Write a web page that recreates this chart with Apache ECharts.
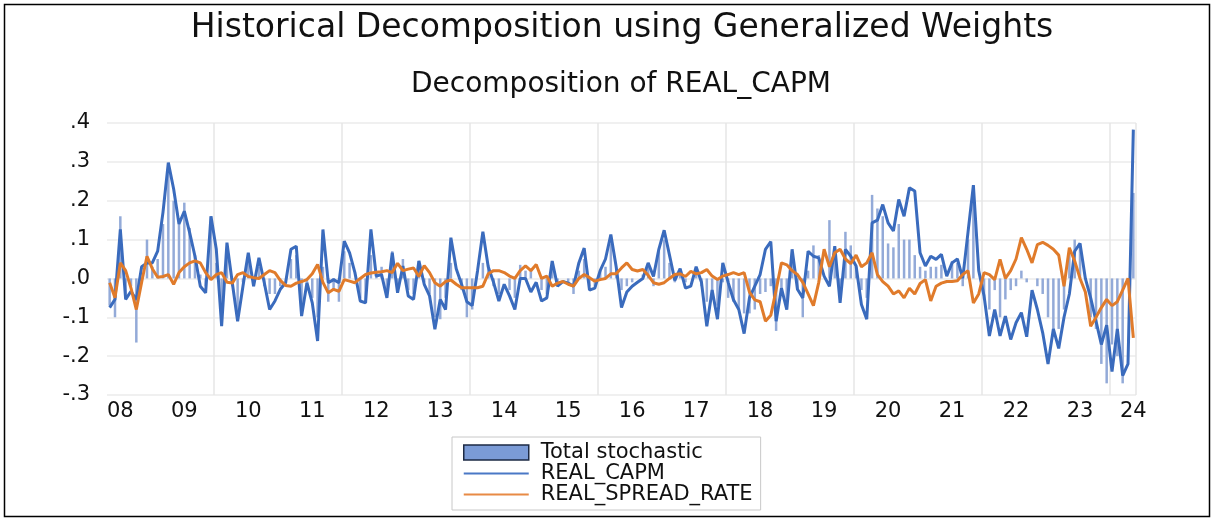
<!DOCTYPE html>
<html>
<head>
<meta charset="utf-8">
<script src="https://cdn.jsdelivr.net/npm/echarts@6/dist/echarts.min.js"></script>
<style>
  html, body { margin: 0; padding: 0; background: #fff; }
  #chart { width: 1211px; height: 518px; }
</style>
</head>
<body>
<div id="chart"></div>
<script>
// ---- data (monthly, 2008M05 .. 2024M05) ----
const startYear = 2008;
const startMonth = 5;
const yearLabels = ['08','09','10','11','12','13','14','15','16','17','18','19','20','21','22','23','24'];

const totalStochastic = [
  -0.07,-0.10,0.16,-0.04,-0.02,-0.165,0.00,0.10,0.03,0.05,0.14,0.28,0.20,0.14,0.195,0.13,0.06,0.01,-0.02,0.16,
  0.04,-0.10,0.08,-0.02,-0.09,-0.01,0.05,-0.02,0.03,-0.02,-0.04,-0.04,-0.02,0.00,0.05,0.06,-0.07,-0.01,-0.05,-0.10,
  0.03,-0.06,-0.03,-0.06,0.07,0.04,0.00,-0.05,-0.06,0.06,0.01,0.03,-0.04,0.07,-0.02,0.05,-0.03,-0.04,0.045,-0.01,
  -0.04,-0.10,-0.105,-0.05,0.04,0.00,-0.03,-0.10,-0.08,0.00,0.04,0.035,-0.02,-0.04,0.00,-0.03,-0.05,0.035,0.02,0.025,
  0.00,-0.03,-0.04,0.045,-0.01,0.00,-0.01,-0.04,0.02,0.05,-0.02,-0.02,0.02,0.03,0.09,0.02,-0.03,-0.02,-0.01,0.00,
  0.01,0.03,-0.02,0.07,0.10,0.04,-0.01,0.01,-0.01,0.00,0.02,-0.02,-0.06,-0.05,-0.07,-0.01,-0.05,-0.06,-0.08,-0.09,
  -0.09,-0.08,-0.04,-0.035,-0.02,-0.135,-0.04,-0.06,0.04,-0.03,-0.10,0.02,0.085,0.06,0.00,0.15,0.08,-0.04,0.12,0.085,
  0.03,-0.03,-0.05,0.215,0.18,0.16,0.09,0.08,0.14,0.10,0.10,0.06,0.03,0.02,0.03,0.03,0.035,0.00,0.045,0.04,
  -0.02,0.10,0.22,0.00,-0.054,-0.08,-0.03,-0.10,-0.054,-0.03,-0.02,0.02,-0.01,0.00,-0.02,-0.04,-0.10,-0.15,-0.13,-0.08,
  0.075,0.10,0.09,0.00,-0.10,-0.13,-0.22,-0.27,-0.17,-0.20,-0.27,-0.01,0.22
];

const realCapm = [
  -0.075,-0.054,0.126,-0.054,-0.033,-0.055,0.03,0.04,0.04,0.07,0.17,0.298,0.23,0.14,0.173,0.118,0.057,-0.02,-0.037,0.16,
  0.075,-0.123,0.092,-0.011,-0.11,-0.02,0.066,-0.02,0.053,-0.011,-0.08,-0.058,-0.028,-0.011,0.075,0.083,-0.097,-0.011,-0.063,-0.161,
  0.126,-0.011,-0.003,-0.011,0.096,0.066,0.015,-0.058,-0.063,0.126,0.006,0.01,-0.05,0.066,-0.037,0.032,-0.045,-0.054,0.045,-0.015,
  -0.045,-0.131,-0.054,-0.08,0.105,0.025,-0.015,-0.06,-0.07,0.02,0.12,0.03,-0.01,-0.058,-0.015,-0.045,-0.08,0.0,0.0,-0.035,
  -0.01,-0.058,-0.05,0.045,-0.02,-0.008,-0.012,-0.02,0.04,0.078,-0.03,-0.025,0.02,0.05,0.113,0.03,-0.075,-0.035,-0.02,-0.01,
  0.0,0.04,0.005,0.075,0.124,0.06,-0.005,0.025,-0.025,-0.02,0.03,-0.01,-0.123,-0.03,-0.105,0.04,-0.01,-0.055,-0.08,-0.142,
  -0.05,-0.02,0.01,0.075,0.095,-0.11,-0.025,-0.08,0.075,-0.028,-0.05,0.07,0.057,0.053,0.006,-0.02,0.083,-0.063,0.075,0.057,
  0.032,-0.067,-0.105,0.143,0.15,0.19,0.143,0.122,0.203,0.16,0.233,0.225,0.066,0.032,0.057,0.049,0.062,0.006,0.04,0.05,
  0.0,0.12,0.24,0.02,-0.045,-0.148,-0.08,-0.148,-0.097,-0.157,-0.114,-0.088,-0.15,-0.03,-0.08,-0.14,-0.22,-0.13,-0.18,-0.10,
  -0.04,0.07,0.09,0.0,-0.05,-0.11,-0.17,-0.12,-0.24,-0.13,-0.25,-0.22,0.383
];

const realSpreadRate = [
  -0.011,-0.05,0.04,0.02,-0.025,-0.08,-0.01,0.057,0.025,0.003,0.005,0.01,-0.015,0.015,0.03,0.04,0.045,0.04,0.015,-0.003,
  0.01,0.015,-0.01,-0.012,0.01,0.015,0.005,0.002,0.0,0.01,0.02,0.015,-0.005,-0.018,-0.02,-0.012,-0.008,-0.003,0.012,0.036,
  -0.01,-0.037,-0.028,-0.033,-0.003,-0.007,-0.011,0.0,0.01,0.014,0.016,0.017,0.02,0.015,0.039,0.02,0.024,0.027,0.005,0.033,
  0.015,-0.011,-0.02,-0.008,-0.004,-0.015,-0.024,-0.024,-0.024,-0.024,-0.02,0.012,0.02,0.02,0.015,0.006,0.0,0.02,0.032,0.02,
  0.036,0.0,0.006,-0.02,-0.012,-0.008,-0.015,-0.02,0.0,0.01,0.002,-0.007,-0.003,0.0,0.012,0.012,0.027,0.04,0.023,0.019,
  0.023,0.008,-0.011,-0.015,-0.011,0.0,0.01,0.012,0.005,0.018,0.012,0.015,0.023,0.006,-0.003,0.006,0.01,0.015,0.01,0.015,
  -0.035,-0.055,-0.06,-0.11,-0.095,-0.03,0.04,0.035,0.02,0.01,-0.01,-0.04,-0.07,-0.01,0.075,0.03,0.066,0.075,0.05,0.038,
  0.06,0.03,0.04,0.066,0.01,-0.008,-0.02,-0.04,-0.032,-0.05,-0.025,-0.04,-0.013,-0.003,-0.058,-0.02,-0.012,-0.008,-0.008,-0.006,
  0.01,0.02,-0.063,-0.04,0.015,0.01,-0.003,0.049,0.0,0.02,0.05,0.105,0.075,0.04,0.087,0.093,0.085,0.075,0.06,-0.02,
  0.079,0.045,0.0,-0.035,-0.123,-0.10,-0.075,-0.054,-0.07,-0.06,-0.03,0.0,-0.153
];

// month categories
const months = [];
for (let i = 0; i < realCapm.length; i++) {
  const m = startMonth - 1 + i;
  months.push((startYear + Math.floor(m / 12)) + 'M' + String(m % 12 + 1).padStart(2, '0'));
}
function parseMonth(v) { return { y: +v.slice(0, 4), m: +v.slice(5) }; }

const FONT = 'DejaVu Sans';
const BLUE = '#3a6bbd';
const ORANGE = '#e07b2b';
const LINE_ICON = 'path://M0,0H66V2.2H0Z';
const chart = echarts.init(document.getElementById('chart'), null, { renderer: 'canvas' });

chart.setOption({
  animation: false,
  backgroundColor: '#ffffff',
  textStyle: { fontFamily: FONT },
  title: [
    { text: 'Historical Decomposition using Generalized Weights', left: 622, top: 12, textAlign: 'center', padding: 0,
      textStyle: { fontFamily: FONT, fontSize: 33, fontWeight: 'normal', color: '#111' } },
    { text: 'Decomposition of REAL_CAPM', left: 621, top: 71, textAlign: 'center', padding: 0,
      textStyle: { fontFamily: FONT, fontSize: 28, fontWeight: 'normal', color: '#111' } }
  ],
  graphic: [
    { type: 'rect', left: 2, top: 2, shape: { width: 1205, height: 512 }, style: { fill: 'none', stroke: '#000', lineWidth: 1.5 }, silent: true }
  ],
  grid: { left: 107, right: 75, top: 123, bottom: 123, containLabel: false },
  legend: {
    orient: 'vertical',
    left: 452, top: 437,
    padding: [5, 8, 5, 11],
    itemGap: 0,
    itemWidth: 65, itemHeight: 15,
    borderColor: '#c8c8c8', borderWidth: 1,
    textStyle: { fontFamily: FONT, fontSize: 21, lineHeight: 20, color: '#111', padding: [0, 0, 0, 7] },
    data: [
      { name: 'Total stochastic', icon: 'rect', itemStyle: { color: '#7b9bd6', borderColor: '#1d2a44', borderWidth: 1.5 } },
      { name: 'REAL_CAPM', icon: LINE_ICON, itemStyle: { color: '#4a78c6' } },
      { name: 'REAL_SPREAD_RATE', icon: LINE_ICON, itemStyle: { color: '#e88a45' } }
    ]
  },
  xAxis: {
    type: 'category',
    data: months,
    boundaryGap: true,
    axisLine: { show: false },
    axisTick: { show: false },
    axisLabel: {
      interval: function (idx, val) { const p = parseMonth(val); return p.m === 7 || idx === months.length - 1; },
      formatter: function (val) { return yearLabels[parseMonth(val).y - startYear]; },
      fontFamily: FONT, fontSize: 21, color: '#111', margin: 6
    },
    splitLine: {
      show: true,
      interval: function (idx, val) { const p = parseMonth(val); return p.m === 1 && p.y % 2 === 0; },
      lineStyle: { color: '#e6e6e6', width: 1.5 }
    }
  },
  yAxis: {
    type: 'value',
    min: -0.3, max: 0.4, interval: 0.1,
    axisLine: { show: false },
    axisTick: { show: false },
    axisLabel: {
      formatter: function (v) { let s = (Math.abs(v) < 1e-9 ? 0 : v).toFixed(1); return s.replace('0.', '.'); },
      fontFamily: FONT, fontSize: 21, color: '#111', margin: 17
    },
    splitLine: { show: true, lineStyle: { color: '#ebebeb', width: 1.5 } }
  },
  series: [
    { name: 'Total stochastic', type: 'bar', data: totalStochastic, barWidth: 2.5, itemStyle: { color: '#93aad8' } },
    { name: 'REAL_CAPM', type: 'line', data: realCapm, symbol: 'none', lineStyle: { color: BLUE, width: 3 }, itemStyle: { color: BLUE } },
    { name: 'REAL_SPREAD_RATE', type: 'line', data: realSpreadRate, symbol: 'none', lineStyle: { color: ORANGE, width: 3 }, itemStyle: { color: ORANGE } }
  ]
});
</script>
</body>
</html>
